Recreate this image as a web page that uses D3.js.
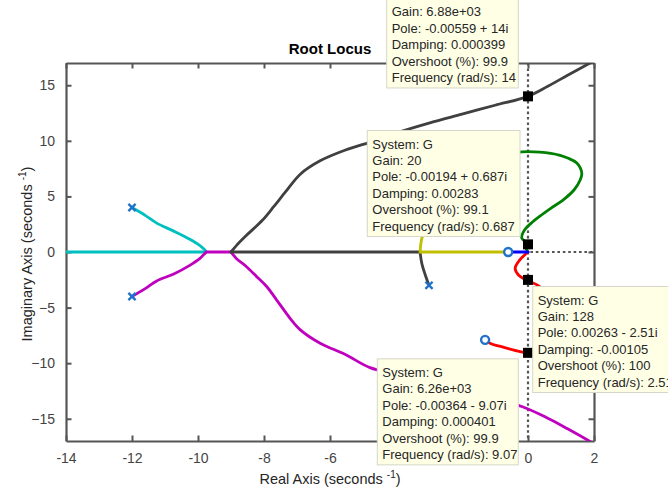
<!DOCTYPE html>
<html>
<head>
<meta charset="utf-8">
<script src="https://cdn.jsdelivr.net/npm/d3@7"></script>
<style>
  body { margin: 0; background: #fff; }
  svg { display: block; font-family: "Liberation Sans", Arial, sans-serif; }
</style>
</head>
<body>
<svg width="668" height="495"></svg>
<script>
// locus branches, [real, imag]
const cyanBranch = [[-12,4],[-11.6,3.3],[-11.25,2.6],[-10.75,1.9],[-10.25,1.15],[-9.95,0.6],[-9.8,0.2],[-9.75,0]];
const cyanAxis = [[-9.75,0],[-14,0]];
const magentaBranch = [[-12,-4],[-11.6,-3.3],[-11.25,-2.6],[-10.75,-2.0],[-10.25,-1.2],[-9.94,-0.57],[-9.8,-0.15],[-9.75,0]];
const magentaAxis = [[-9.75,0],[-9.0,0]];
const magentaDown = [[-9.0,0],[-8.83,-0.6],[-8.53,-1.32],[-8.22,-2.22],[-7.92,-3.1],[-7.62,-4.3],[-7.21,-5.96],[-6.9,-7.0],[-6.3,-8.2],[-5.55,-9.2],[-4.79,-10.4],[-4,-11.0],[-3,-11.7],[-2,-12.5],[-1,-13.2],[-0.19,-13.9],[0.5,-14.8],[1.2,-15.9],[1.88,-17.04],[2.2,-17.6]];
const grayAxis = [[-9.0,0],[-3.27,0]];
const grayUp = [[-9.0,0],[-8.83,0.6],[-8.53,1.5],[-8.05,2.85],[-7.7,4.1],[-7.35,5.4],[-6.9,7.0],[-6.3,8.2],[-5.55,9.15],[-4.65,10.0],[-4,10.7],[-3,11.6],[-2,12.4],[-1,13.2],[0,14],[0.6,14.9],[1.2,15.9],[1.88,17],[2.2,17.5]];
const grayDown = [[-3.27,0],[-3.22,-1.0],[-3.12,-2.0],[-3,-3]];
const yellowUp = [[-3.27,0],[-3.24,0.9],[-3.17,1.7],[-3.08,2.4],[-3,3]];
const yellowAxis = [[-3.27,0],[-0.6,0]];
const blueAxis = [[-0.6,0],[0,0]];
const greenBranch = [[0,0],[-0.06,0.35],[0,0.687],[-0.19,1.26],[-0.1,2.0],[0.1,2.6],[0.35,3.2],[0.7,3.95],[1.06,4.67],[1.4,5.6],[1.58,6.47],[1.63,7.1],[1.48,8.0],[1.2,8.45],[0.97,8.7],[0.36,8.98],[-0.19,9.0],[-0.8,8.6],[-1.3,8]];
const redBranch = [[0,0],[-0.15,-0.4],[-0.29,-0.87],[-0.39,-1.47],[-0.29,-2.07],[-0.09,-2.46],[0.06,-2.67],[0.3,-3.0],[0.7,-3.9],[1.06,-4.67],[1.4,-5.6],[1.58,-6.47],[1.63,-7.1],[1.5,-7.9],[1.2,-8.45],[0.9,-8.75],[0.36,-8.98],[0,-9.07],[-0.24,-8.96],[-0.7,-8.6],[-1.15,-8.2],[-1.3,-7.9]];

const poles = [[-12,4],[-12,-4],[-3,3],[-3,-3]];
const zeros = [[-0.6,0],[-1.3,8],[-1.3,-7.9]];

const xTicks = [-14,-12,-10,-8,-6,-4,-2,0,2];
const xTickLabels = ["-14","-12","-10","-8","-6","","","0","2"]; // -4 and -2 sit under a data tip
const yTicks = [-15,-10,-5,0,5,10,15];

// data tips: selected pole and its text (top tip's first line is off the page)
const tipPoints = [[0,14],[0,0.687],[0,-2.51],[0,-9.07]];
const tipTexts = [
  [null,"Gain: 6.88e+03","Pole: -0.00559 + 14i","Damping: 0.000399","Overshoot (%): 99.9","Frequency (rad/s): 14"],
  ["System: G","Gain: 20","Pole: -0.00194 + 0.687i","Damping: 0.00283","Overshoot (%): 99.1","Frequency (rad/s): 0.687"],
  ["System: G","Gain: 128","Pole: 0.00263 - 2.51i","Damping: -0.00105","Overshoot (%): 100","Frequency (rad/s): 2.51"],
  ["System: G","Gain: 6.26e+03","Pole: -0.00364 - 9.07i","Damping: 0.000401","Overshoot (%): 99.9","Frequency (rad/s): 9.07"]
];
// box offset from the tip marker (px) and width
const tipBoxes = [
  {dx: -141.3, dy: -114.4, w: 131.6},
  {dx: -160.7, dy: -113.9, w: 152.7},
  {dx: 4.7, dy: 6.6, w: 170},
  {dx: -150.7, dy: 6, w: 141}
];

const svg = d3.select("svg");
const x = d3.scaleLinear().domain([-14, 2]).range([66, 594]);
const y = d3.scaleLinear().domain([-17, 17]).range([441, 63]);
const AX = "#555";

svg.append("defs").append("clipPath").attr("id", "plot")
  .append("rect").attr("x", x(-14)).attr("y", y(17))
  .attr("width", x(2) - x(-14)).attr("height", y(-17) - y(17));

// dotted zero lines
const grid = svg.append("g").attr("clip-path", "url(#plot)")
  .attr("stroke", "#555").attr("stroke-width", 2.2).attr("stroke-dasharray", "2.6,2.8");
grid.append("line").attr("x1", x(0)).attr("x2", x(0)).attr("y1", y(17)).attr("y2", y(-17));
grid.append("line").attr("x1", x(-14)).attr("x2", x(2)).attr("y1", y(0)).attr("y2", y(0));

// axes with inward ticks on all sides
const axG = svg.append("g");
axG.append("g").attr("transform", `translate(0,${y(-17)})`)
  .call(d3.axisBottom(x).tickValues(xTicks).tickFormat((d, i) => xTickLabels[i])
    .tickSizeInner(-5.5).tickSizeOuter(0).tickPadding(12));
axG.append("g").attr("transform", `translate(0,${y(17)})`)
  .call(d3.axisTop(x).tickValues(xTicks).tickSizeInner(-5.5).tickSizeOuter(0).tickFormat(""));
axG.append("g").attr("transform", `translate(${x(-14)},0)`)
  .call(d3.axisLeft(y).tickValues(yTicks).tickSizeInner(-5.5).tickSizeOuter(0).tickPadding(11));
axG.append("g").attr("transform", `translate(${x(2)},0)`)
  .call(d3.axisRight(y).tickValues(yTicks).tickSizeInner(-5.5).tickSizeOuter(0).tickFormat(""));
axG.selectAll(".domain").attr("stroke", AX).attr("stroke-width", 2.2);
axG.selectAll(".tick line").attr("stroke", AX).attr("stroke-width", 2);
axG.selectAll(".tick text").attr("fill", "#444").style("font-size", "14px")
  .style("font-family", "'Liberation Sans', Arial, sans-serif");

// loci
const line = d3.line().x(d => x(d[0])).y(d => y(d[1])).curve(d3.curveCatmullRom.alpha(0.5));
const loci = svg.append("g").attr("clip-path", "url(#plot)")
  .attr("fill", "none").attr("stroke-width", 2.8).attr("stroke-linejoin", "round").attr("stroke-linecap", "round");
const branches = [
  [cyanAxis, "#00bfbf"], [cyanBranch, "#00bfbf"],
  [magentaBranch, "#bf00bf"], [magentaAxis, "#bf00bf"], [magentaDown, "#bf00bf"],
  [grayAxis, "#404040"], [grayUp, "#404040"], [grayDown, "#404040"],
  [yellowUp, "#bfbf00"], [yellowAxis, "#bfbf00"],
  [greenBranch, "#008000"], [redBranch, "#ff0000"], [blueAxis, "#0000ff"]
];
branches.forEach(([pts, c]) => loci.append("path").datum(pts).attr("stroke", c).attr("d", line));

// pole and zero markers
const mk = "#1f72c8";
svg.append("g").selectAll("path").data(poles).join("path")
  .attr("d", d => {
    const px = x(d[0]), py = y(d[1]), s = 3.6;
    return `M${px - s},${py - s}L${px + s},${py + s}M${px - s},${py + s}L${px + s},${py - s}`;
  })
  .attr("stroke", mk).attr("stroke-width", 2.4).attr("fill", "none");
svg.append("g").selectAll("circle").data(zeros).join("circle")
  .attr("cx", d => x(d[0])).attr("cy", d => y(d[1])).attr("r", 4)
  .attr("fill", "#fff").attr("stroke", mk).attr("stroke-width", 2.4);

// data tip markers
svg.append("g").selectAll("rect").data(tipPoints).join("rect")
  .attr("x", d => x(d[0]) - 5).attr("y", d => y(d[1]) - 5)
  .attr("width", 10).attr("height", 10).attr("fill", "#000");

// data tip boxes
const LH = 16.4;
tipPoints.forEach((p, i) => {
  const b = tipBoxes[i];
  const bx = x(p[0]) + b.dx, by = y(p[1]) + b.dy;
  const g = svg.append("g");
  g.append("rect").attr("x", bx).attr("y", by).attr("width", b.w).attr("height", 24 + 5 * LH)
    .attr("fill", "#ffffe6").attr("stroke", "#d6d6c8").attr("stroke-width", 1);
  tipTexts[i].forEach((t, j) => {
    if (t === null) return;
    g.append("text").attr("x", bx + 5).attr("y", by + 13.5 + j * LH + 4.6)
      .attr("fill", "#262626").style("font-size", "13px").text(t);
  });
});

// title and axis labels
svg.append("text").attr("x", 330).attr("y", 53.5).attr("text-anchor", "middle")
  .style("font-size", "15px").style("font-weight", "bold").attr("fill", "#000").text("Root Locus");

const xl = svg.append("text").attr("x", 330).attr("y", 484).attr("text-anchor", "middle")
  .style("font-size", "14.5px").attr("fill", "#262626");
xl.append("tspan").text("Real Axis (seconds ");
xl.append("tspan").attr("dy", -6).style("font-size", "10px").text("-1");
xl.append("tspan").attr("dy", 6).text(")");

const yl = svg.append("text").attr("transform", "translate(32,254) rotate(-90)").attr("text-anchor", "middle")
  .style("font-size", "14.5px").attr("fill", "#262626");
yl.append("tspan").text("Imaginary Axis (seconds ");
yl.append("tspan").attr("dy", -6).style("font-size", "10px").text("-1");
yl.append("tspan").attr("dy", 6).text(")");
</script>
</body>
</html>
